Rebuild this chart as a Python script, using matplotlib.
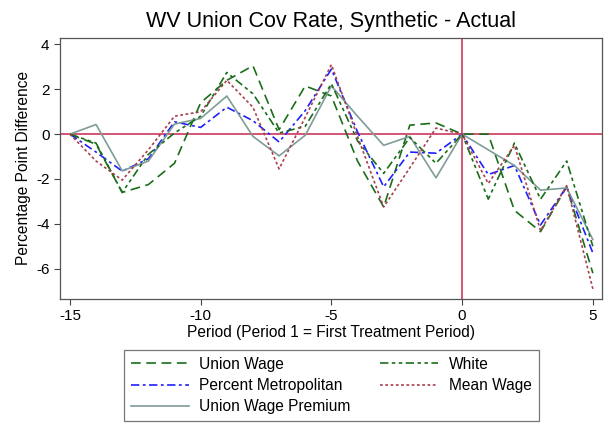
import matplotlib
matplotlib.use("Agg")
import matplotlib.pyplot as plt
import numpy as np

plt.rcParams['font.family'] = ['Liberation Sans', 'DejaVu Sans']
plt.rcParams['lines.scale_dashes'] = False

# period relative to treatment
period = np.arange(-15, 6)

# synthetic - actual, by predictor set
union_wage = [0, -0.45, -2.6, -2.25, -1.3, 1.4, 2.4, 3.05, 0.2, 2.15, 1.7,
              -1.2, -3.25, 0.4, 0.5, 0, 0, -3.4, -4.35, -2.35, -6.2]
white = [0, -0.4, -2.6, -0.9, 0.05, 0.8, 2.75, 1.8, 0.05, 0.35, 2.25,
         -0.3, -1.75, -0.15, -1.3, 0, -2.9, -0.4, -2.9, -1.2, -5.0]
pct_metro = [0, -0.8, -1.65, -1.1, 0.55, 0.3, 1.2, 0.6, -0.35, 1.05, 2.9,
             0.1, -2.35, -0.8, -0.85, 0, -1.8, -1.4, -4.05, -2.35, -5.3]
mean_wage = [0, -1.2, -2.05, -0.7, 0.8, 1.0, 2.4, 1.2, -1.55, 0.75, 3.1,
             -0.1, -3.25, -1.5, 0.27, 0, -2.2, -0.5, -4.3, -2.3, -6.9]
union_premium = [0, 0.43, -1.64, -1.2, 0.45, 0.7, 1.7, -0.1, -0.97, -0.05, 2.15,
                 0.8, -0.5, -0.1, -1.95, 0, -0.7, -1.4, -2.5, -2.4, -4.7]

xticks = [-15, -10, -5, 0, 5]
yticks = [-6, -4, -2, 0, 2, 4]

fig = plt.figure(figsize=(6.09, 4.24), dpi=100)
ax = fig.add_axes([0.0985, 0.295, 0.890, 0.616])

ax.axhline(0, color='#d2466a', lw=1.3, zorder=1)
ax.axvline(0, color='#d2466a', lw=1.3, zorder=1)

green = '#1a6e1a'
l1, = ax.plot(period, union_wage, color=green, lw=1.2, dashes=(7, 4), label='Union Wage')
l2, = ax.plot(period, pct_metro, color='#1f1fff', lw=1.2, dashes=(6, 2.5, 2, 2.5),
              label='Percent Metropolitan')
l3, = ax.plot(period, union_premium, color='#7f9c98', lw=1.2, label='Union Wage Premium')
l4, = ax.plot(period, white, color=green, lw=1.2, dashes=(6, 2.5, 2.5, 2.5, 2.5, 2.5),
              label='White')
l5, = ax.plot(period, mean_wage, color='#a8404f', lw=1.2, dashes=(2, 1.8), label='Mean Wage')

ax.set_xlim(-15.38, 5.35)
ax.set_ylim(-7.35, 4.3)
ax.set_xticks(xticks)
ax.set_xticklabels([str(t) for t in xticks])
ax.set_yticks(yticks)
ax.set_yticklabels([str(t) for t in yticks])
ax.tick_params(direction='out', length=4, width=0.8, color='#444444', labelsize=11)
for s in ax.spines.values():
    s.set_color('#555555')
    s.set_linewidth(0.9)

ax.set_title('WV Union Cov Rate, Synthetic - Actual', fontsize=15.5, pad=8)
ax.set_xlabel('Period (Period 1 = First Treatment Period)', fontsize=11.2, labelpad=1)
ax.set_ylabel('Percentage Point Difference', fontsize=11.2, labelpad=4)

leg = fig.legend(handles=[l1, l2, l3, l4, l5], ncol=2, loc='lower center',
                 bbox_to_anchor=(0.544, -0.012), fontsize=11.2, frameon=True,
                 fancybox=False, edgecolor='#555555', handlelength=3.7,
                 columnspacing=1.9, borderpad=0.45, labelspacing=0.4,
                 handletextpad=0.7)
leg.get_frame().set_linewidth(0.9)

fig.savefig('out.png', dpi=100)
